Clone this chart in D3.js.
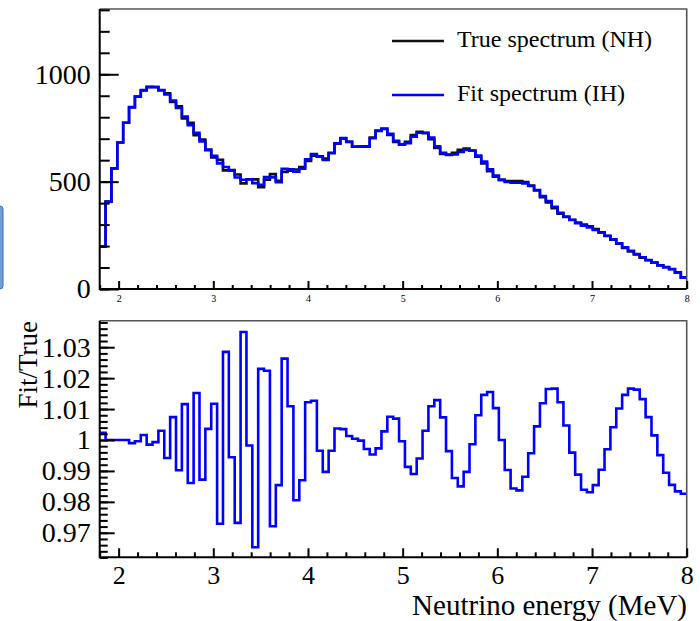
<!DOCTYPE html>
<html>
<head>
<meta charset="utf-8">
<script src="https://cdn.jsdelivr.net/npm/d3@7"></script>
<style>
body { margin: 0; background: #fff; }
text { font-family: "Liberation Serif", "Times New Roman", serif; fill: #000; }
</style>
</head>
<body>
<script>
// binning: 100 bins between 1.8 and 8 MeV
var energyMin = 1.8
var energyMax = 8
var nBins = 100

// fit spectrum (IH), counts per bin
var fitSpectrum = [198, 407, 562, 682, 774, 846, 896, 926, 940, 940,
    927, 906, 878, 843, 803, 763, 727, 687, 649, 620,
    585, 568, 551, 519, 509, 510, 493, 485, 521, 520,
    497, 560, 557, 546, 560, 604, 629, 616, 601, 632,
    679, 703, 686, 663, 663, 663, 702, 736, 747, 723,
    690, 673, 679, 709, 728, 728, 705, 665, 634, 624,
    627, 638, 647, 644, 621, 593, 557, 528, 508, 498,
    495, 495, 492, 480, 461, 433, 410, 383, 355, 337,
    321, 306, 295, 287, 275, 262, 247, 231, 213, 194,
    178, 163, 148, 135, 123, 110, 101, 92, 76, 53]

// Fit/True per bin
var ratio = [1.0023, 1.0000, 1.0000, 1.0000, 1.0000, 0.9990, 0.9996, 1.0016, 0.9985, 0.9993,
    1.0030, 0.9942, 1.0074, 0.9902, 1.0116, 0.9861, 1.0152, 0.9872, 1.0036, 1.0117,
    0.9729, 1.0285, 0.9944, 0.9732, 1.0349, 0.9982, 0.9653, 1.0230, 1.0224, 0.9721,
    0.9854, 1.0263, 1.0109, 0.9805, 0.9870, 1.0122, 1.0127, 0.9965, 0.9897, 0.9965,
    1.0037, 1.0035, 1.0013, 1.0004, 0.9998, 0.9971, 0.9953, 0.9973, 1.0028, 1.0075,
    1.0069, 0.9996, 0.9913, 0.9890, 0.9940, 1.0030, 1.0109, 1.0129, 1.0073, 0.9964,
    0.9877, 0.9850, 0.9897, 0.9986, 1.0080, 1.0146, 1.0155, 1.0103, 1.0000, 0.9903,
    0.9843, 0.9837, 0.9881, 0.9957, 1.0044, 1.0119, 1.0165, 1.0166, 1.0122, 1.0047,
    0.9959, 0.9888, 0.9839, 0.9831, 0.9854, 0.9904, 0.9970, 1.0041, 1.0102, 1.0146,
    1.0166, 1.0163, 1.0132, 1.0074, 1.0015, 0.9951, 0.9894, 0.9855, 0.9834, 0.9826]

// true spectrum (NH) follows from the ratio panel: true = fit / (fit/true)
var trueSpectrum = fitSpectrum.map((v, i) => v / ratio[i])

var energyTicks = [2, 3, 4, 5, 6, 7, 8]
var countTicks = [0, 500, 1000]
var ratioTicks = [0.97, 0.98, 0.99, 1, 1.01, 1.02, 1.03]
var ratioTickLabels = ["0.97", "0.98", "0.99", "1", "1.01", "1.02", "1.03"]
var legendLabels = ["True spectrum (NH)", "Fit spectrum (IH)"]
var xTitle = "Neutrino energy (MeV)"
var yTitleRatio = "Fit/True"

var width = 700, height = 621
var svg = d3.select("body").append("svg")
    .attr("width", width)
    .attr("height", height)

var binW = (energyMax - energyMin) / nBins
var edges = d3.range(nBins + 1).map(i => energyMin + i * binW)

var x = d3.scaleLinear().domain([energyMin, energyMax]).range([99.7, 686.7])
var yTop = d3.scaleLinear().domain([0, 1304]).range([289, 9])
var yBot = d3.scaleLinear().domain([0.96207, 1.03857]).range([557.3, 320.7])

var minorE = d3.range(9, 41).map(i => i / 5).filter(v => v % 1 !== 0)

// odd blue tab at the left edge of the screenshot
svg.append("rect")
    .attr("x", -6).attr("y", 206).attr("width", 9).attr("height", 83)
    .attr("rx", 3)
    .style("fill", "#6f9fd6").style("stroke", "#3f6fae").style("stroke-width", 1)

function histPath(values, y) {
    var pts = values.map((v, i) => [edges[i], v])
    pts.push([edges[nBins], values[nBins - 1]])
    return d3.line()
        .x(d => x(d[0]))
        .y(d => y(d[1]))
        .curve(d3.curveStepAfter)(pts)
}

function ticksOn(g, axis, fontSize) {
    g.call(axis)
    g.attr("font-family", null)
    g.select(".domain").remove()
    g.selectAll(".tick line").style("stroke", "#000").style("stroke-width", 2)
    g.selectAll(".tick text")
        .style("font-family", '"Liberation Serif", "Times New Roman", serif')
        .style("fill", "#000")
        .style("font-size", (fontSize || 10) + "px")
}

function frame(y0, y1) {
    var x0 = x.range()[0], x1 = x.range()[1]
    svg.append("path")
        .attr("d", "M" + x0 + "," + y0 + "H" + x1 + "V" + y1)
        .style("fill", "none").style("stroke", "#555").style("stroke-width", 1.6)
    svg.append("path")
        .attr("d", "M" + x0 + "," + y0 + "V" + y1 + "H" + x1)
        .style("fill", "none").style("stroke", "#000").style("stroke-width", 2)
}

// ---------- top panel ----------
svg.append("path")
    .attr("d", histPath(trueSpectrum, yTop))
    .style("fill", "none").style("stroke", "#111").style("stroke-width", 2.6)
svg.append("path")
    .attr("d", histPath(fitSpectrum, yTop))
    .style("fill", "none").style("stroke", "#0000ff").style("stroke-width", 2.6)

frame(9, 289)

ticksOn(svg.append("g").attr("transform", "translate(0,289)"),
    d3.axisBottom(x).tickValues(minorE).tickSize(-4).tickFormat(""))
ticksOn(svg.append("g").attr("transform", "translate(0,289)"),
    d3.axisBottom(x).tickValues(energyTicks).tickSize(-8).tickPadding(6).tickFormat(d3.format("d")), 10)

ticksOn(svg.append("g").attr("transform", "translate(99.7,0)"),
    d3.axisLeft(yTop).tickValues(d3.range(0, 1301, 100)).tickSize(-10).tickFormat(""))
ticksOn(svg.append("g").attr("transform", "translate(99.7,0)"),
    d3.axisLeft(yTop).tickValues(countTicks).tickSize(-19).tickPadding(9).tickFormat(d3.format("d")), 28)

// legend
var legend = svg.append("g")
legendLabels.forEach(function (lab, i) {
    var ly = 41 + i * 54
    legend.append("line")
        .attr("x1", 392).attr("x2", 444).attr("y1", ly).attr("y2", ly)
        .style("stroke", i === 0 ? "#111" : "#0000ff").style("stroke-width", 2.6)
    legend.append("text")
        .attr("x", 457).attr("y", ly + 6)
        .style("font-size", "24px")
        .text(lab)
})

// ---------- bottom panel ----------
svg.append("path")
    .attr("d", histPath(ratio, yBot))
    .style("fill", "none").style("stroke", "#0000ff").style("stroke-width", 2.6)

frame(320.7, 557.3)

ticksOn(svg.append("g").attr("transform", "translate(0,557.3)"),
    d3.axisBottom(x).tickValues(minorE).tickSize(-5).tickFormat(""))
ticksOn(svg.append("g").attr("transform", "translate(0,557.3)"),
    d3.axisBottom(x).tickValues(energyTicks).tickSize(-9).tickPadding(8).tickFormat(d3.format("d")), 26)

ticksOn(svg.append("g").attr("transform", "translate(99.7,0)"),
    d3.axisLeft(yBot).tickValues(d3.range(481, 520).map(i => i / 500)).tickSize(-8).tickFormat(""))
ticksOn(svg.append("g").attr("transform", "translate(99.7,0)"),
    d3.axisLeft(yBot).tickValues(ratioTicks).tickSize(-15).tickPadding(9)
        .tickFormat((d, i) => ratioTickLabels[i]), 28)

svg.append("text")
    .attr("x", 687).attr("y", 615)
    .style("text-anchor", "end").style("font-size", "29px")
    .text(xTitle)

svg.append("text")
    .attr("transform", "translate(37,321) rotate(-90)")
    .style("text-anchor", "end").style("font-size", "27px")
    .text(yTitleRatio)
</script>
</body>
</html>
